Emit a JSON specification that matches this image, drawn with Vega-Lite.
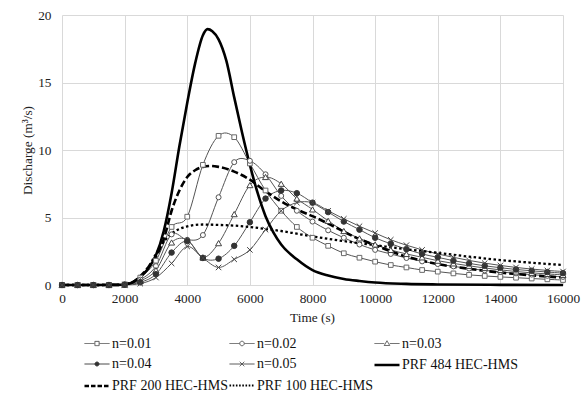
{
  "$schema": "https://vega.github.io/schema/vega-lite/v6.json",
  "width": 501,
  "height": 270,
  "autosize": {"type": "none"},
  "padding": {"left": 62, "top": 15, "right": 22, "bottom": 109},
  "background": "white",
  "config": {
    "view": {"stroke": null},
    "font": "Liberation Serif",
    "axis": {
      "labelFont": "Liberation Serif",
      "titleFont": "Liberation Serif",
      "labelFontSize": 13.3,
      "titleFontSize": 13.3,
      "labelColor": "#222222",
      "titleColor": "#222222",
      "titleFontWeight": "normal",
      "gridColor": "#d9d9d9",
      "gridWidth": 1,
      "domain": false,
      "ticks": false
    },
    "legend": {
      "labelFont": "Liberation Serif",
      "labelFontSize": 14,
      "labelColor": "#111111",
      "labelLimit": 300,
      "title": null,
      "orient": "none",
      "legendX": 21,
      "legendY": 315,
      "direction": "horizontal",
      "columns": 3,
      "gridAlign": "all",
      "columnPadding": -7,
      "rowPadding": 0,
      "symbolSize": 625,
      "labelOffset": 1
    }
  },
  "data": {
    "values": [
      {"s":"n=0.01","t":0,"q":0},{"s":"n=0.01","t":500,"q":0},{"s":"n=0.01","t":1000,"q":0},{"s":"n=0.01","t":1500,"q":0},{"s":"n=0.01","t":2000,"q":0.05},{"s":"n=0.01","t":2500,"q":0.55},{"s":"n=0.01","t":3000,"q":1.8},{"s":"n=0.01","t":3500,"q":4.3},{"s":"n=0.01","t":4000,"q":5.06},{"s":"n=0.01","t":4500,"q":8.9},{"s":"n=0.01","t":5000,"q":11.05},{"s":"n=0.01","t":5500,"q":10.95},{"s":"n=0.01","t":6000,"q":9.0},{"s":"n=0.01","t":6500,"q":7.0},{"s":"n=0.01","t":7000,"q":5.5},{"s":"n=0.01","t":7500,"q":4.3},{"s":"n=0.01","t":8000,"q":3.5},{"s":"n=0.01","t":8500,"q":2.9},{"s":"n=0.01","t":9000,"q":2.35},{"s":"n=0.01","t":9500,"q":2.02},{"s":"n=0.01","t":10000,"q":1.73},{"s":"n=0.01","t":10500,"q":1.48},{"s":"n=0.01","t":11000,"q":1.3},{"s":"n=0.01","t":11500,"q":1.11},{"s":"n=0.01","t":12000,"q":0.99},{"s":"n=0.01","t":12500,"q":0.86},{"s":"n=0.01","t":13000,"q":0.75},{"s":"n=0.01","t":13500,"q":0.67},{"s":"n=0.01","t":14000,"q":0.6},{"s":"n=0.01","t":14500,"q":0.54},{"s":"n=0.01","t":15000,"q":0.48},{"s":"n=0.01","t":15500,"q":0.42},{"s":"n=0.01","t":16000,"q":0.37},
      {"s":"n=0.02","t":0,"q":0},{"s":"n=0.02","t":500,"q":0},{"s":"n=0.02","t":1000,"q":0},{"s":"n=0.02","t":1500,"q":0},{"s":"n=0.02","t":2000,"q":0.03},{"s":"n=0.02","t":2500,"q":0.4},{"s":"n=0.02","t":3000,"q":1.4},{"s":"n=0.02","t":3500,"q":3.75},{"s":"n=0.02","t":4000,"q":3.35},{"s":"n=0.02","t":4500,"q":3.7},{"s":"n=0.02","t":5000,"q":6.5},{"s":"n=0.02","t":5500,"q":9.1},{"s":"n=0.02","t":6000,"q":9.2},{"s":"n=0.02","t":6500,"q":8.2},{"s":"n=0.02","t":7000,"q":6.6},{"s":"n=0.02","t":7500,"q":5.5},{"s":"n=0.02","t":8000,"q":4.7},{"s":"n=0.02","t":8500,"q":4.05},{"s":"n=0.02","t":9000,"q":3.5},{"s":"n=0.02","t":9500,"q":3.0},{"s":"n=0.02","t":10000,"q":2.6},{"s":"n=0.02","t":10500,"q":2.3},{"s":"n=0.02","t":11000,"q":2.0},{"s":"n=0.02","t":11500,"q":1.75},{"s":"n=0.02","t":12000,"q":1.55},{"s":"n=0.02","t":12500,"q":1.38},{"s":"n=0.02","t":13000,"q":1.22},{"s":"n=0.02","t":13500,"q":1.08},{"s":"n=0.02","t":14000,"q":0.97},{"s":"n=0.02","t":14500,"q":0.86},{"s":"n=0.02","t":15000,"q":0.77},{"s":"n=0.02","t":15500,"q":0.68},{"s":"n=0.02","t":16000,"q":0.6},
      {"s":"n=0.03","t":0,"q":0},{"s":"n=0.03","t":500,"q":0},{"s":"n=0.03","t":1000,"q":0},{"s":"n=0.03","t":1500,"q":0},{"s":"n=0.03","t":2000,"q":0.02},{"s":"n=0.03","t":2500,"q":0.3},{"s":"n=0.03","t":3000,"q":1.1},{"s":"n=0.03","t":3500,"q":3.15},{"s":"n=0.03","t":4000,"q":3.35},{"s":"n=0.03","t":4500,"q":2.05},{"s":"n=0.03","t":5000,"q":3.1},{"s":"n=0.03","t":5500,"q":5.25},{"s":"n=0.03","t":6000,"q":7.4},{"s":"n=0.03","t":6500,"q":8.0},{"s":"n=0.03","t":7000,"q":7.5},{"s":"n=0.03","t":7500,"q":6.4},{"s":"n=0.03","t":8000,"q":5.6},{"s":"n=0.03","t":8500,"q":4.75},{"s":"n=0.03","t":9000,"q":4.0},{"s":"n=0.03","t":9500,"q":3.45},{"s":"n=0.03","t":10000,"q":3.0},{"s":"n=0.03","t":10500,"q":2.6},{"s":"n=0.03","t":11000,"q":2.3},{"s":"n=0.03","t":11500,"q":2.05},{"s":"n=0.03","t":12000,"q":1.8},{"s":"n=0.03","t":12500,"q":1.6},{"s":"n=0.03","t":13000,"q":1.42},{"s":"n=0.03","t":13500,"q":1.26},{"s":"n=0.03","t":14000,"q":1.12},{"s":"n=0.03","t":14500,"q":1.0},{"s":"n=0.03","t":15000,"q":0.9},{"s":"n=0.03","t":15500,"q":0.82},{"s":"n=0.03","t":16000,"q":0.75},
      {"s":"n=0.04","t":0,"q":0},{"s":"n=0.04","t":500,"q":0},{"s":"n=0.04","t":1000,"q":0},{"s":"n=0.04","t":1500,"q":0},{"s":"n=0.04","t":2000,"q":0.02},{"s":"n=0.04","t":2500,"q":0.2},{"s":"n=0.04","t":3000,"q":0.8},{"s":"n=0.04","t":3500,"q":2.4},{"s":"n=0.04","t":4000,"q":3.25},{"s":"n=0.04","t":4500,"q":2.0},{"s":"n=0.04","t":5000,"q":1.95},{"s":"n=0.04","t":5500,"q":2.9},{"s":"n=0.04","t":6000,"q":4.65},{"s":"n=0.04","t":6500,"q":6.4},{"s":"n=0.04","t":7000,"q":7.0},{"s":"n=0.04","t":7500,"q":6.8},{"s":"n=0.04","t":8000,"q":6.1},{"s":"n=0.04","t":8500,"q":5.4},{"s":"n=0.04","t":9000,"q":4.7},{"s":"n=0.04","t":9500,"q":4.1},{"s":"n=0.04","t":10000,"q":3.5},{"s":"n=0.04","t":10500,"q":3.05},{"s":"n=0.04","t":11000,"q":2.65},{"s":"n=0.04","t":11500,"q":2.3},{"s":"n=0.04","t":12000,"q":2.05},{"s":"n=0.04","t":12500,"q":1.8},{"s":"n=0.04","t":13000,"q":1.6},{"s":"n=0.04","t":13500,"q":1.42},{"s":"n=0.04","t":14000,"q":1.28},{"s":"n=0.04","t":14500,"q":1.15},{"s":"n=0.04","t":15000,"q":1.05},{"s":"n=0.04","t":15500,"q":0.96},{"s":"n=0.04","t":16000,"q":0.88},
      {"s":"n=0.05","t":0,"q":0},{"s":"n=0.05","t":500,"q":0},{"s":"n=0.05","t":1000,"q":0},{"s":"n=0.05","t":1500,"q":0},{"s":"n=0.05","t":2000,"q":0.01},{"s":"n=0.05","t":2500,"q":0.1},{"s":"n=0.05","t":3000,"q":0.55},{"s":"n=0.05","t":3500,"q":1.6},{"s":"n=0.05","t":4000,"q":2.85},{"s":"n=0.05","t":4500,"q":2.0},{"s":"n=0.05","t":5000,"q":1.3},{"s":"n=0.05","t":5500,"q":1.9},{"s":"n=0.05","t":6000,"q":2.6},{"s":"n=0.05","t":6500,"q":4.1},{"s":"n=0.05","t":7000,"q":5.5},{"s":"n=0.05","t":7500,"q":6.1},{"s":"n=0.05","t":8000,"q":6.1},{"s":"n=0.05","t":8500,"q":5.5},{"s":"n=0.05","t":9000,"q":4.9},{"s":"n=0.05","t":9500,"q":4.35},{"s":"n=0.05","t":10000,"q":3.85},{"s":"n=0.05","t":10500,"q":3.35},{"s":"n=0.05","t":11000,"q":2.95},{"s":"n=0.05","t":11500,"q":2.6},{"s":"n=0.05","t":12000,"q":2.3},{"s":"n=0.05","t":12500,"q":2.05},{"s":"n=0.05","t":13000,"q":1.82},{"s":"n=0.05","t":13500,"q":1.62},{"s":"n=0.05","t":14000,"q":1.45},{"s":"n=0.05","t":14500,"q":1.3},{"s":"n=0.05","t":15000,"q":1.18},{"s":"n=0.05","t":15500,"q":1.08},{"s":"n=0.05","t":16000,"q":1.0},
      {"s":"PRF 484 HEC-HMS","t":0,"q":0},{"s":"PRF 484 HEC-HMS","t":1000,"q":0},{"s":"PRF 484 HEC-HMS","t":1800,"q":0.01},{"s":"PRF 484 HEC-HMS","t":2000,"q":0.05},{"s":"PRF 484 HEC-HMS","t":2250,"q":0.2},{"s":"PRF 484 HEC-HMS","t":2500,"q":0.6},{"s":"PRF 484 HEC-HMS","t":2750,"q":1.2},{"s":"PRF 484 HEC-HMS","t":3000,"q":2.2},{"s":"PRF 484 HEC-HMS","t":3250,"q":4.0},{"s":"PRF 484 HEC-HMS","t":3500,"q":6.8},{"s":"PRF 484 HEC-HMS","t":3750,"q":10.3},{"s":"PRF 484 HEC-HMS","t":4000,"q":13.5},{"s":"PRF 484 HEC-HMS","t":4250,"q":16.4},{"s":"PRF 484 HEC-HMS","t":4500,"q":18.5},{"s":"PRF 484 HEC-HMS","t":4650,"q":18.95},{"s":"PRF 484 HEC-HMS","t":4800,"q":18.8},{"s":"PRF 484 HEC-HMS","t":5000,"q":18.2},{"s":"PRF 484 HEC-HMS","t":5250,"q":16.6},{"s":"PRF 484 HEC-HMS","t":5500,"q":13.9},{"s":"PRF 484 HEC-HMS","t":5750,"q":11.3},{"s":"PRF 484 HEC-HMS","t":6000,"q":8.9},{"s":"PRF 484 HEC-HMS","t":6250,"q":6.8},{"s":"PRF 484 HEC-HMS","t":6500,"q":5.1},{"s":"PRF 484 HEC-HMS","t":6750,"q":3.9},{"s":"PRF 484 HEC-HMS","t":7000,"q":3.0},{"s":"PRF 484 HEC-HMS","t":7500,"q":1.9},{"s":"PRF 484 HEC-HMS","t":8000,"q":1.1},{"s":"PRF 484 HEC-HMS","t":8500,"q":0.7},{"s":"PRF 484 HEC-HMS","t":9000,"q":0.45},{"s":"PRF 484 HEC-HMS","t":9500,"q":0.3},{"s":"PRF 484 HEC-HMS","t":10000,"q":0.18},{"s":"PRF 484 HEC-HMS","t":11000,"q":0.08},{"s":"PRF 484 HEC-HMS","t":12000,"q":0.04},{"s":"PRF 484 HEC-HMS","t":14000,"q":0.01},{"s":"PRF 484 HEC-HMS","t":16000,"q":0.0},
      {"s":"PRF 200 HEC-HMS","t":0,"q":0},{"s":"PRF 200 HEC-HMS","t":1000,"q":0},{"s":"PRF 200 HEC-HMS","t":1800,"q":0.01},{"s":"PRF 200 HEC-HMS","t":2000,"q":0.05},{"s":"PRF 200 HEC-HMS","t":2250,"q":0.2},{"s":"PRF 200 HEC-HMS","t":2500,"q":0.65},{"s":"PRF 200 HEC-HMS","t":2750,"q":1.3},{"s":"PRF 200 HEC-HMS","t":3000,"q":2.1},{"s":"PRF 200 HEC-HMS","t":3250,"q":3.4},{"s":"PRF 200 HEC-HMS","t":3500,"q":5.5},{"s":"PRF 200 HEC-HMS","t":3750,"q":7.0},{"s":"PRF 200 HEC-HMS","t":4000,"q":8.0},{"s":"PRF 200 HEC-HMS","t":4250,"q":8.5},{"s":"PRF 200 HEC-HMS","t":4500,"q":8.75},{"s":"PRF 200 HEC-HMS","t":4750,"q":8.82},{"s":"PRF 200 HEC-HMS","t":5000,"q":8.75},{"s":"PRF 200 HEC-HMS","t":5500,"q":8.4},{"s":"PRF 200 HEC-HMS","t":6000,"q":7.8},{"s":"PRF 200 HEC-HMS","t":6500,"q":6.95},{"s":"PRF 200 HEC-HMS","t":7000,"q":6.2},{"s":"PRF 200 HEC-HMS","t":7500,"q":5.6},{"s":"PRF 200 HEC-HMS","t":8000,"q":5.1},{"s":"PRF 200 HEC-HMS","t":8500,"q":4.55},{"s":"PRF 200 HEC-HMS","t":9000,"q":3.95},{"s":"PRF 200 HEC-HMS","t":9500,"q":3.4},{"s":"PRF 200 HEC-HMS","t":10000,"q":2.95},{"s":"PRF 200 HEC-HMS","t":10500,"q":2.5},{"s":"PRF 200 HEC-HMS","t":11000,"q":2.1},{"s":"PRF 200 HEC-HMS","t":11500,"q":1.8},{"s":"PRF 200 HEC-HMS","t":12000,"q":1.55},{"s":"PRF 200 HEC-HMS","t":13000,"q":1.2},{"s":"PRF 200 HEC-HMS","t":14000,"q":0.92},{"s":"PRF 200 HEC-HMS","t":15000,"q":0.72},{"s":"PRF 200 HEC-HMS","t":16000,"q":0.55},
      {"s":"PRF 100 HEC-HMS","t":0,"q":0},{"s":"PRF 100 HEC-HMS","t":1000,"q":0},{"s":"PRF 100 HEC-HMS","t":1800,"q":0.01},{"s":"PRF 100 HEC-HMS","t":2000,"q":0.05},{"s":"PRF 100 HEC-HMS","t":2250,"q":0.2},{"s":"PRF 100 HEC-HMS","t":2500,"q":0.6},{"s":"PRF 100 HEC-HMS","t":2750,"q":1.3},{"s":"PRF 100 HEC-HMS","t":3000,"q":2.3},{"s":"PRF 100 HEC-HMS","t":3250,"q":3.2},{"s":"PRF 100 HEC-HMS","t":3500,"q":3.8},{"s":"PRF 100 HEC-HMS","t":3750,"q":4.15},{"s":"PRF 100 HEC-HMS","t":4000,"q":4.35},{"s":"PRF 100 HEC-HMS","t":4500,"q":4.48},{"s":"PRF 100 HEC-HMS","t":5000,"q":4.45},{"s":"PRF 100 HEC-HMS","t":5500,"q":4.4},{"s":"PRF 100 HEC-HMS","t":6000,"q":4.3},{"s":"PRF 100 HEC-HMS","t":6500,"q":4.15},{"s":"PRF 100 HEC-HMS","t":7000,"q":4.0},{"s":"PRF 100 HEC-HMS","t":7500,"q":3.8},{"s":"PRF 100 HEC-HMS","t":8000,"q":3.6},{"s":"PRF 100 HEC-HMS","t":9000,"q":3.25},{"s":"PRF 100 HEC-HMS","t":10000,"q":2.95},{"s":"PRF 100 HEC-HMS","t":11000,"q":2.65},{"s":"PRF 100 HEC-HMS","t":12000,"q":2.38},{"s":"PRF 100 HEC-HMS","t":13000,"q":2.1},{"s":"PRF 100 HEC-HMS","t":14000,"q":1.85},{"s":"PRF 100 HEC-HMS","t":15000,"q":1.65},{"s":"PRF 100 HEC-HMS","t":16000,"q":1.48}
    ]
  },
  "encoding": {
    "x": {
      "field": "t", "type": "quantitative",
      "scale": {"domain": [0, 16000], "nice": false, "zero": true},
      "axis": {"values": [0,2000,4000,6000,8000,10000,12000,14000,16000], "title": "Time (s)", "labelPadding": 6, "format": "d", "titleX": 250, "titleY": 32, "titleBaseline": "middle", "titleAlign": "center", "labelFlush": false}
    },
    "y": {
      "field": "q", "type": "quantitative",
      "scale": {"domain": [0, 20], "nice": false},
      "axis": {"values": [0,5,10,15,20], "title": "Discharge (m³/s)", "labelPadding": 11, "titleX": -35, "titleY": 135, "titleAngle": 270, "titleBaseline": "middle", "titleAlign": "center"}
    }
  },
  "layer": [
    {
      "transform": [{"filter": "indexof(datum.s, 'n=') === 0"}],
      "mark": {"type": "line", "interpolate": "cardinal", "stroke": "#555555", "strokeWidth": 1},
      "encoding": {"detail": {"field": "s"}}
    },
    {
      "transform": [{"filter": "datum.s === 'PRF 484 HEC-HMS'"}],
      "mark": {"type": "line", "interpolate": "monotone", "stroke": "#000000", "strokeWidth": 2.6},
      "encoding": {}
    },
    {
      "transform": [{"filter": "datum.s === 'PRF 200 HEC-HMS'"}],
      "mark": {"type": "line", "interpolate": "monotone", "stroke": "#000000", "strokeWidth": 2.6, "strokeDash": [7, 3]},
      "encoding": {}
    },
    {
      "transform": [{"filter": "datum.s === 'PRF 100 HEC-HMS'"}],
      "mark": {"type": "line", "interpolate": "monotone", "stroke": "#000000", "strokeWidth": 2.3, "strokeDash": [2.5, 2.5]},
      "encoding": {}
    },
    {
      "transform": [{"filter": "datum.s === 'n=0.01'"}],
      "mark": {"type": "point", "shape": "square", "size": 22, "filled": true, "fill": "white", "stroke": "#6a6a6a", "strokeWidth": 1, "opacity": 1}
    },
    {
      "transform": [{"filter": "datum.s === 'n=0.02'"}],
      "mark": {"type": "point", "shape": "circle", "size": 25, "filled": true, "fill": "white", "stroke": "#555555", "strokeWidth": 1, "opacity": 1}
    },
    {
      "transform": [{"filter": "datum.s === 'n=0.03'"}],
      "mark": {"type": "point", "shape": "triangle-up", "size": 36, "filled": true, "fill": "white", "stroke": "#444444", "strokeWidth": 1, "opacity": 1}
    },
    {
      "transform": [{"filter": "datum.s === 'n=0.04'"}],
      "mark": {"type": "point", "shape": "circle", "size": 30, "filled": true, "fill": "#333333", "stroke": "#333333", "strokeWidth": 1, "opacity": 1}
    },
    {
      "transform": [{"filter": "datum.s === 'n=0.05'"}],
      "mark": {"type": "point", "shape": "M-1,-1L1,1M-1,1L1,-1", "size": 30, "filled": false, "stroke": "#444444", "strokeWidth": 1, "opacity": 1}
    },
    {
      "transform": [{"filter": "datum.t < 0"}],
      "mark": {"type": "point", "opacity": 1},
      "encoding": {
        "shape": {
          "field": "s", "type": "nominal",
          "scale": {"domain": ["n=0.01","n=0.02","n=0.03","n=0.04","n=0.05","PRF 484 HEC-HMS","PRF 200 HEC-HMS","PRF 100 HEC-HMS"], "range": [
            "M-1,0L-0.2,0M0.2,0L1,0M-0.17,-0.17L0.17,-0.17L0.17,0.17L-0.17,0.17Z",
            "M-1,0L-0.2,0M0.2,0L1,0M-0.18,0A0.18,0.18,0,1,1,0.18,0A0.18,0.18,0,1,1,-0.18,0Z",
            "M-1,0L-0.22,0M0.22,0L1,0M0,-0.22L0.22,0.16L-0.22,0.16Z",
            "M-1,0L1,0M-0.16,0A0.16,0.16,0,1,1,0.16,0A0.16,0.16,0,1,1,-0.16,0Z",
            "M-1,0L1,0M-0.18,-0.18L0.18,0.18M-0.18,0.18L0.18,-0.18",
            "M-1,0L1,0",
            "M-1,0L1,0",
            "M-1,0L1,0"
          ]}
        },
        "stroke": {"field": "s", "type": "nominal", "scale": {"domain": ["n=0.01","n=0.02","n=0.03","n=0.04","n=0.05","PRF 484 HEC-HMS","PRF 200 HEC-HMS","PRF 100 HEC-HMS"], "range": ["#555555","#555555","#555555","#333333","#444444","#000000","#000000","#000000"]}},
        "fill": {"field": "s", "type": "nominal", "scale": {"domain": ["n=0.01","n=0.02","n=0.03","n=0.04","n=0.05","PRF 484 HEC-HMS","PRF 200 HEC-HMS","PRF 100 HEC-HMS"], "range": ["#ffffff","#ffffff","#ffffff","#333333","#ffffff","#ffffff","#ffffff","#ffffff"]}},
        "strokeDash": {"field": "s", "type": "nominal", "scale": {"domain": ["n=0.01","n=0.02","n=0.03","n=0.04","n=0.05","PRF 484 HEC-HMS","PRF 200 HEC-HMS","PRF 100 HEC-HMS"], "range": [[1,0],[1,0],[1,0],[1,0],[1,0],[1,0],[4.5,2],[1.6,1.6]]}},
        "strokeWidth": {"field": "s", "type": "nominal", "scale": {"type": "ordinal", "domain": ["n=0.01","n=0.02","n=0.03","n=0.04","n=0.05","PRF 484 HEC-HMS","PRF 200 HEC-HMS","PRF 100 HEC-HMS"], "range": [1,1,1,1,1,2.6,2.6,2.0]}}
      }
    }
  ]
}
